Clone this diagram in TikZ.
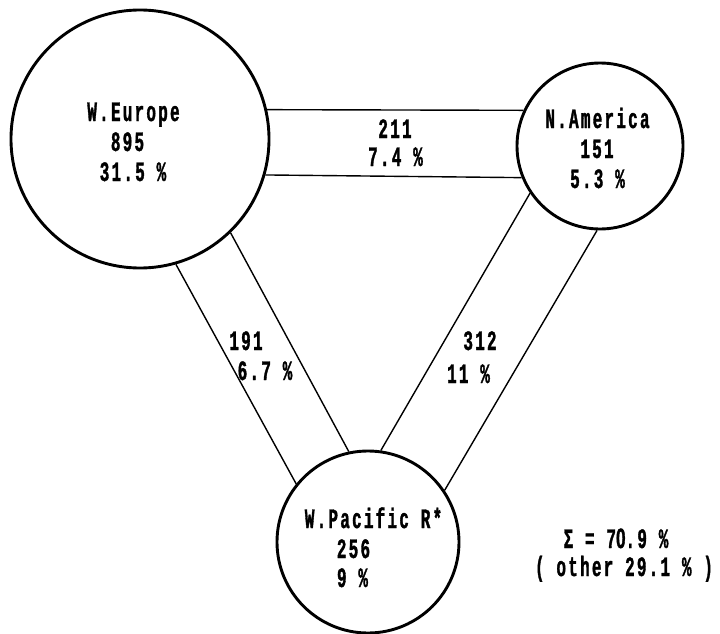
\documentclass[tikz,border=0pt]{standalone}
\usepackage{fontspec}
% narrow typewriter-like face for all labels
\newfontfamily\labelfont{Liberation Mono Bold}[FakeStretch=0.57,LetterSpace=8,FakeBold=1.2]
% plain zero (no inner dot), same cell width as the mono digits
\newfontfamily\zerofont{Liberation Sans Bold}[FakeStretch=0.615,LetterSpace=8,FakeBold=1.2]
\begin{document}
\begin{tikzpicture}[x=1pt,y=-1pt,
  region/.style={circle,draw,line width=2.9pt,minimum size=#1,inner sep=0pt},
  flow/.style={line width=1.4pt},
  lbl/.style={anchor=base,inner sep=0pt,font=\fontsize{28}{32}\labelfont}]
\useasboundingbox (0,0) rectangle (720,634);

% regions
\node[region=258pt] (eu) at (140,139) {};
\node[region=166pt] (na) at (600,146) {};
\node[region=182pt] (wp) at (368,542) {};

% paired flow lines between regions
\draw[flow] (eu.13.9)  -- (na.155.8);
\draw[flow] (eu.-16.2) -- (na.-158);
\draw[flow] (eu.-74.3) -- (wp.141.8);
\draw[flow] (eu.-46.8) -- (wp.102.7);
\draw[flow] (na.-146.7) -- (wp.82.3);
\draw[flow] (na.-92)   -- (wp.34.9);

% region labels
\node[lbl] (euname) at (133.5,121) {W.Europe};
\node[lbl] (eunum)  at (127.5,151) {895};
\node[lbl] (eupct)  at (133,181)   {31.5 \%};
\node[lbl] (naname) at (597.5,128) {N.America};
\node[lbl] (nanum)  at (597,158)   {151};
\node[lbl] (napct)  at (597.5,188) {5.3 \%};
\node[lbl] (wpname) at (373.5,528) {W.Pacific R*};
\node[lbl] (wpnum)  at (353.5,558) {256};
\node[lbl] (wppct)  at (352.5,587) {9 \%};

% flow labels
\node[lbl] (eunaval) at (395,138)   {211};
\node[lbl] (eunapct) at (395.5,166) {7.4 \%};
\node[lbl] (euwpval) at (246,350)   {191};
\node[lbl] (euwppct) at (265,380)   {6.7 \%};
\node[lbl] (nawpval) at (480,350)   {312};
\node[lbl] (nawppct) at (468.5,383) {11 \%};

% totals
\node[lbl] (total) at (616,548) {Σ = 7{\zerofont 0}.9 \%};
\node[lbl] (other) at (624,576) {( other 29.1 \% )};
\end{tikzpicture}
\end{document}
